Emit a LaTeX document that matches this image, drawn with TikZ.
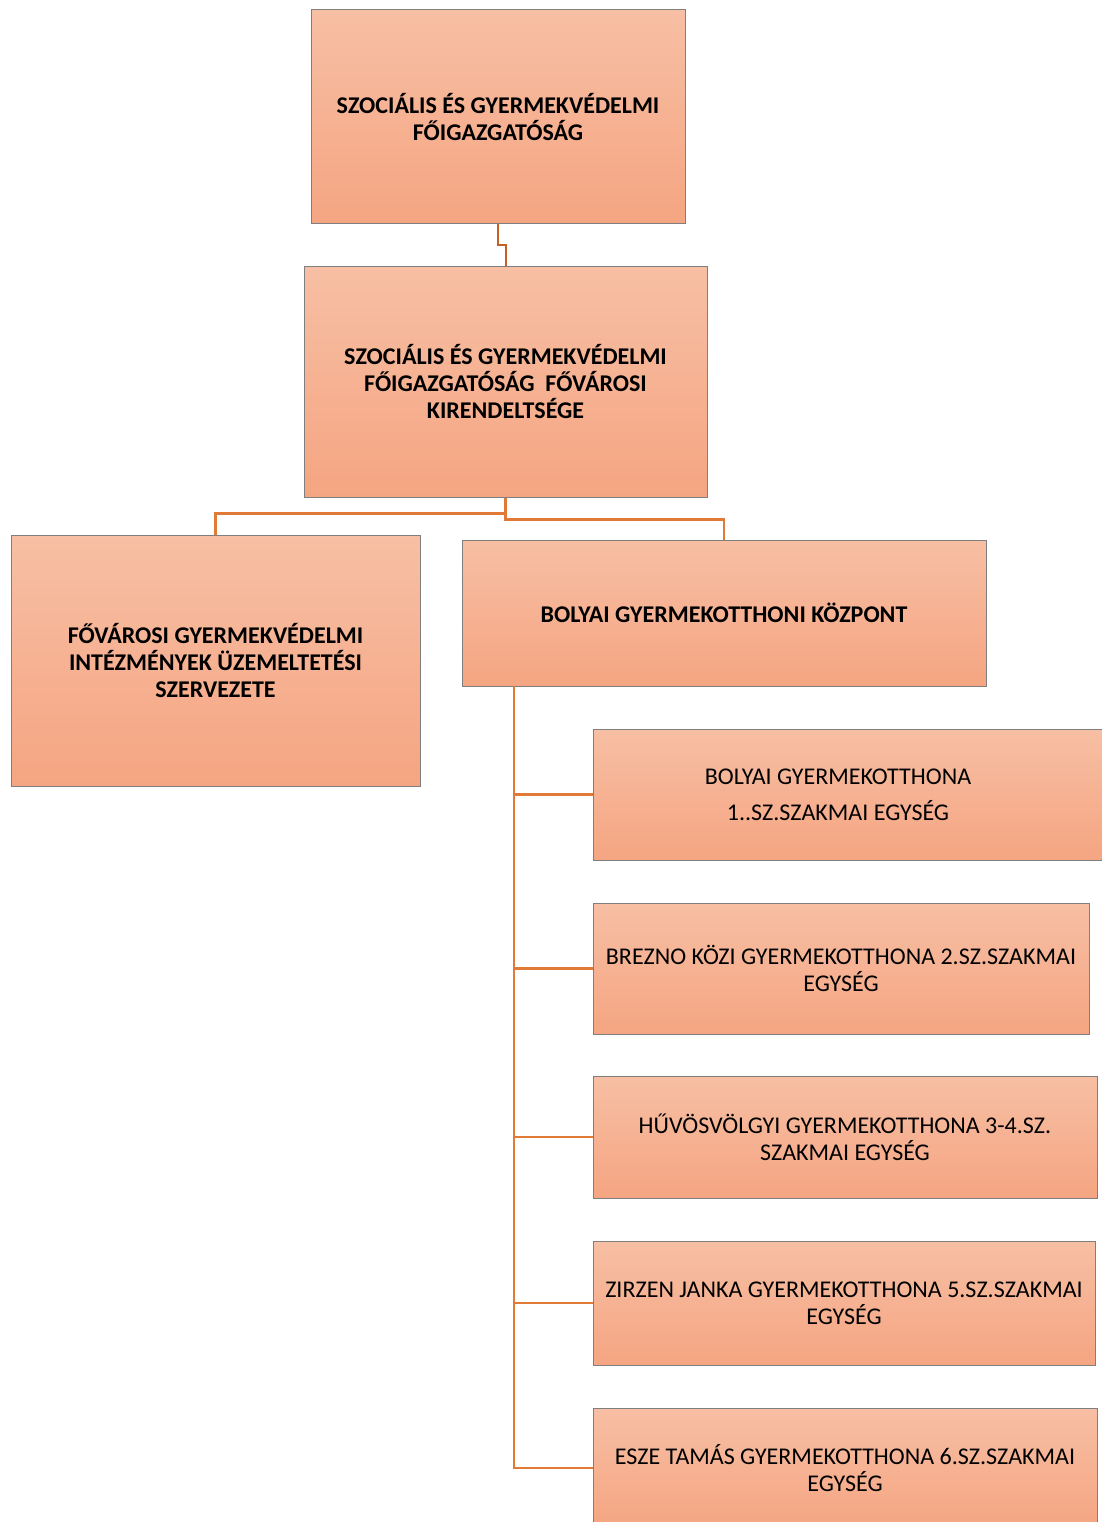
\documentclass[tikz,border=0pt]{standalone}
\usepackage{fontspec}
\setmainfont{Carlito}
\definecolor{boxtop}{HTML}{F7BFA4}
\definecolor{boxbot}{HTML}{F5A582}
\definecolor{boxline}{HTML}{7F7F7F}
\definecolor{linkor}{HTML}{E07A36}
\definecolor{linkdk}{HTML}{C65F22}
\tikzset{
    orgbox/.style={draw=boxline, line width=1pt, top color=boxtop, bottom color=boxbot,
                   inner sep=0pt, align=center, font=\fontsize{24}{27}\selectfont},
    link/.style={draw=linkor, line width=2.8pt},
}
\begin{document}
\begin{tikzpicture}[x=1pt, y=-1pt]
    \useasboundingbox (0, 0) rectangle (1101, 1522);
    % felső szint
    \node [orgbox, minimum width=374pt, minimum height=214pt] (fo) at (498, 117)
        {\bfseries SZOCIÁLIS ÉS GYERMEKVÉDELMI\\\bfseries FŐIGAZGATÓSÁG};
    \node [orgbox, minimum width=403pt, minimum height=231pt] (kir) at (505.5, 381.5)
        {\bfseries SZOCIÁLIS ÉS GYERMEKVÉDELMI\\\bfseries FŐIGAZGATÓSÁG\ \ FŐVÁROSI\\\bfseries KIRENDELTSÉGE};
    \node [orgbox, minimum width=409pt, minimum height=251pt] (uz) at (215.5, 660.5)
        {\bfseries FŐVÁROSI GYERMEKVÉDELMI\\\bfseries INTÉZMÉNYEK ÜZEMELTETÉSI\\\bfseries SZERVEZETE};
    \node [orgbox, minimum width=524pt, minimum height=146pt] (bgk) at (724, 613)
        {\bfseries BOLYAI GYERMEKOTTHONI KÖZPONT};
    % szakmai egységek
    \node [orgbox, minimum width=516pt, minimum height=131pt] (e1) at (851, 794.5)
        {\hspace*{-26pt}BOLYAI GYERMEKOTTHONA\\[9pt]\hspace*{-26pt}1..SZ.SZAKMAI EGYSÉG};
    \node [orgbox, minimum width=496pt, minimum height=131pt] (e2) at (841, 968.5)
        {BREZNO KÖZI GYERMEKOTTHONA 2.SZ.SZAKMAI\\EGYSÉG};
    \node [orgbox, minimum width=504pt, minimum height=122pt] (e3) at (845, 1137)
        {HŰVÖSVÖLGYI GYERMEKOTTHONA 3-4.SZ.\\SZAKMAI EGYSÉG};
    \node [orgbox, minimum width=502pt, minimum height=124pt] (e4) at (844, 1303)
        {ZIRZEN JANKA GYERMEKOTTHONA 5.SZ.SZAKMAI\\EGYSÉG};
    \node [orgbox, minimum width=504pt, minimum height=120pt] (e5) at (845, 1468)
        {ESZE TAMÁS GYERMEKOTTHONA 6.SZ.SZAKMAI\\EGYSÉG};
    % összekötők
    \draw [draw=linkdk, line width=2pt] (fo.south) -- ++(0, 21) -| (kir.north);
    \draw [link] (kir.south) -- ++(0, 16) -| (uz.north);
    \draw [link] (kir.south) -- ++(0, 22) -| (bgk.north);
    \coordinate (spine) at (514, 686);
    \draw [link] (spine) |- (e5.west);
    \foreach \e in {e1, e2, e3, e4}
        \draw [link] (spine |- \e.west) -- (\e.west);
\end{tikzpicture}
\end{document}
